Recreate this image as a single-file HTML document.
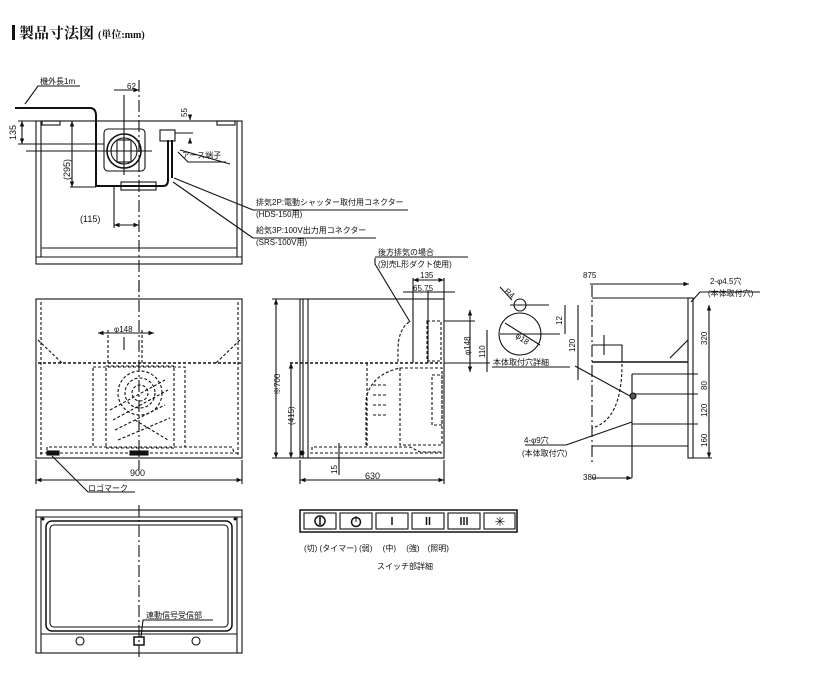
<!DOCTYPE html>
<html><head><meta charset="utf-8"><style>
html,body{margin:0;padding:0;background:#fff;width:815px;height:700px;overflow:hidden}
svg{display:block}
text{font-family:"Liberation Sans","Noto Sans CJK JP",sans-serif;fill:#111}
</style></head><body>
<svg width="815" height="700" viewBox="0 0 815 700" xmlns="http://www.w3.org/2000/svg">
<defs>
<marker id="a" markerWidth="6" markerHeight="6" refX="5" refY="3" orient="auto-start-reverse"><path d="M0,1 L5,3 L0,5" fill="#111"/></marker>
</defs>
<!-- title -->
<rect x="12" y="25" width="3" height="15" fill="#111"/>
<text x="19" y="38" font-size="15" style="font-family:'Liberation Serif','Noto Serif CJK SC',serif" font-weight="bold">製品寸法図</text>
<text x="98" y="38" font-size="10" style="font-family:'Liberation Serif','Noto Serif CJK SC',serif" font-weight="bold">(単位:mm)</text>

<g stroke="#111" stroke-width="1.1" fill="none">
<!-- ===== Top view ===== -->
<rect x="36" y="121" width="206" height="143"/>
<line x1="41" y1="121" x2="41" y2="257"/><line x1="237" y1="121" x2="237" y2="257"/>
<line x1="41" y1="248" x2="237" y2="248"/><line x1="36" y1="257" x2="242" y2="257"/>
<rect x="42" y="121" width="18" height="4"/><rect x="217" y="121" width="18" height="4"/>
<line x1="139" y1="80" x2="139" y2="300" stroke-dasharray="12,3,2,3"/>
<rect x="104" y="129" width="41" height="42" rx="4"/>
<circle cx="124" cy="151" r="17" stroke-width="1.6"/>
<circle cx="124" cy="151" r="13"/>
<rect x="117" y="140" width="14" height="22"/>
<line x1="124" y1="95" x2="124" y2="175"/>
<line x1="26" y1="151" x2="152" y2="151"/>
<rect x="160" y="130" width="15" height="11"/>
<path d="M15,108 L90,108 Q96,108 96,116 L96,186 L163,186 Q168,186 168,180 L168,140" stroke-width="2"/>
<line x1="172" y1="140" x2="172" y2="178" stroke-width="2"/>
<rect x="121" y="182" width="35" height="8"/>
<!-- dims -->
<line x1="22" y1="121" x2="22" y2="144" marker-start="url(#a)" marker-end="url(#a)"/>
<line x1="18" y1="121" x2="36" y2="121"/><line x1="18" y1="144" x2="104" y2="144"/>
<line x1="72" y1="121" x2="72" y2="187" marker-start="url(#a)" marker-end="url(#a)"/>
<line x1="70" y1="187" x2="96" y2="187"/>
<line x1="114" y1="225" x2="139" y2="225" marker-start="url(#a)" marker-end="url(#a)"/>
<line x1="114" y1="186" x2="114" y2="228"/>
<line x1="114" y1="90" x2="139" y2="90" marker-end="url(#a)"/>
<line x1="190" y1="118" x2="190" y2="120" marker-end="url(#a)"/>
<line x1="190" y1="140" x2="190" y2="138" marker-end="url(#a)"/>
<line x1="175" y1="133" x2="193" y2="133"/>
<path d="M25,104 L38,86 L80,86"/>
<path d="M230,164 L180,150 M178,152 L188,162 L226,162"/>
<path d="M253,210 L174,178 M173,182 L253,238"/>
<line x1="253" y1="210" x2="408" y2="210"/><line x1="253" y1="238" x2="376" y2="238"/>

<!-- ===== Front view ===== -->
<rect x="36" y="299" width="206" height="159"/>
<g stroke-dasharray="3,2">
<line x1="41" y1="302" x2="41" y2="455"/><line x1="238" y1="302" x2="238" y2="455"/>
<line x1="38" y1="363" x2="241" y2="363" stroke-width="1.5"/>
<path d="M38,340 L62,363 M240,340 L216,363"/>
<rect x="93" y="367" width="92" height="80"/>
<rect x="106" y="366" width="68" height="82"/>
<circle cx="140" cy="393" r="22"/><circle cx="140" cy="393" r="15"/><circle cx="140" cy="393" r="8"/>
<path d="M110,410 L165,380 M113,420 L168,390 M115,430 L165,405 M118,440 L170,418 M135,420 L168,440"/>
<path d="M47,450 L47,447 L232,447 L234,452"/>
<line x1="40" y1="453" x2="238" y2="453"/>
<line x1="108" y1="330" x2="108" y2="363"/><line x1="142" y1="330" x2="142" y2="363"/>
</g>
<line x1="139" y1="280" x2="139" y2="470" stroke-dasharray="12,3,2,3"/>
<line x1="98" y1="333" x2="154" y2="333" marker-start="url(#a)" marker-end="url(#a)"/>
<line x1="124" y1="337" x2="124" y2="350"/>
<rect x="47" y="451" width="12" height="4" fill="#111"/><rect x="130" y="451" width="18" height="4" fill="#111"/>
<line x1="36" y1="480" x2="242" y2="480" marker-start="url(#a)" marker-end="url(#a)"/>
<line x1="36" y1="460" x2="36" y2="484"/><line x1="242" y1="460" x2="242" y2="484"/>
<path d="M52,456 L88,492 L135,492"/>

<!-- ===== Side view ===== -->
<rect x="300" y="299" width="144" height="159"/>
<line x1="303" y1="299" x2="303" y2="458"/><line x1="308" y1="299" x2="308" y2="458"/>
<g stroke-dasharray="3,2">
<line x1="290" y1="363" x2="442" y2="363" stroke-width="1.5"/>
<path d="M409,322 Q398,330 398,350 L398,363"/>
<rect x="427" y="321" width="14" height="40"/>
<path d="M366,445 L366,400 Q370,375 400,368"/>
<rect x="400" y="368" width="42" height="77"/>
<rect x="432" y="375" width="10" height="50"/>
<path d="M373,385 h14 M373,395 h14 M373,405 h14 M373,415 h14"/>
<path d="M312,450 L312,447 L410,447 L420,452 L442,452"/>
<line x1="310" y1="453" x2="442" y2="453"/>
<line x1="367" y1="363" x2="367" y2="448"/>
</g>
<line x1="413" y1="278" x2="413" y2="363"/><line x1="428" y1="290" x2="428" y2="363"/><line x1="444" y1="278" x2="444" y2="299"/>
<line x1="413" y1="280" x2="444" y2="280" marker-start="url(#a)" marker-end="url(#a)"/>
<line x1="403" y1="292" x2="455" y2="292"/>
<line x1="444" y1="321" x2="475" y2="321"/><line x1="444" y1="363" x2="490" y2="363"/>
<line x1="470" y1="310" x2="470" y2="372" marker-start="url(#a)" marker-end="url(#a)"/>
<line x1="487" y1="330" x2="487" y2="372"/>
<line x1="276" y1="299" x2="276" y2="458" marker-start="url(#a)" marker-end="url(#a)"/>
<line x1="272" y1="299" x2="300" y2="299"/><line x1="272" y1="458" x2="300" y2="458"/>
<line x1="291" y1="363" x2="291" y2="458" marker-start="url(#a)" marker-end="url(#a)"/>
<line x1="300" y1="480" x2="444" y2="480" marker-start="url(#a)" marker-end="url(#a)"/>
<line x1="300" y1="460" x2="300" y2="484"/><line x1="444" y1="460" x2="444" y2="484"/>
<line x1="339" y1="443" x2="339" y2="475"/>
<circle cx="302" cy="453" r="2" fill="#111"/>
<path d="M375,258 L375,264 L410,322"/>
<line x1="375" y1="257" x2="468" y2="257"/>

<!-- ===== Hole detail ===== -->
<circle cx="520" cy="334" r="21"/>
<circle cx="520" cy="305" r="6"/>
<line x1="510" y1="305" x2="549" y2="305"/><line x1="500" y1="334" x2="560" y2="334"/>
<line x1="565" y1="305" x2="565" y2="334"/><line x1="578" y1="305" x2="578" y2="380"/>
<line x1="505" y1="323" x2="540" y2="345"/>
<path d="M500,287 L512,300"/>
<line x1="492" y1="367" x2="570" y2="367"/>

<!-- ===== Right side view ===== -->
<line x1="592" y1="285" x2="592" y2="465" stroke-dasharray="12,3,2,3"/>
<line x1="592" y1="298" x2="690" y2="298"/>
<rect x="688" y="298" width="5" height="160"/>
<line x1="592" y1="362" x2="688" y2="362" stroke-width="1.5"/>
<line x1="592" y1="446" x2="688" y2="446"/>
<path d="M592,345 L622,345 L622,362 M604,335 L604,355"/>
<path d="M670,358 L688,340 L688,358"/>
<path d="M622,364 Q622,420 592,428" stroke-dasharray="3,2"/>
<line x1="632" y1="374" x2="698" y2="374"/><line x1="632" y1="394" x2="698" y2="394"/><line x1="632" y1="424" x2="698" y2="424"/>
<line x1="632" y1="374" x2="632" y2="478"/>
<circle cx="633" cy="396" r="3" fill="#555"/>
<line x1="709" y1="305" x2="709" y2="458" marker-start="url(#a)" marker-end="url(#a)"/>
<line x1="693" y1="458" x2="712" y2="458"/>
<line x1="590" y1="284" x2="689" y2="284" marker-end="url(#a)"/>
<line x1="592" y1="478" x2="632" y2="478" marker-end="url(#a)"/>
<path d="M575,366 L630,396 M566,445 L632,422"/>
<line x1="525" y1="445" x2="566" y2="445"/>
<path d="M691,302 L700,292 L760,292"/>

<!-- ===== Bottom view ===== -->
<rect x="36" y="510" width="206" height="143"/>
<line x1="36" y1="517" x2="242" y2="517"/>
<line x1="41" y1="517" x2="41" y2="653"/><line x1="237" y1="517" x2="237" y2="653"/>
<rect x="46" y="521" width="186" height="110" rx="6" stroke-width="1.5"/>
<rect x="50" y="525" width="178" height="102" rx="4"/>
<line x1="41" y1="634" x2="237" y2="634"/>
<circle cx="80" cy="641" r="4"/><circle cx="196" cy="641" r="4"/>
<rect x="134" y="637" width="10" height="8" stroke-width="1.5"/>
<line x1="139" y1="505" x2="139" y2="660" stroke-dasharray="12,3,2,3"/>
<path d="M141,637 L143,620 L213,620"/>

<!-- ===== Switch panel ===== -->
<rect x="300" y="510" width="217" height="22" stroke-width="1.5"/>
<rect x="304" y="513" width="32" height="16"/><rect x="340" y="513" width="32" height="16"/>
<rect x="376" y="513" width="32" height="16"/><rect x="412" y="513" width="32" height="16"/>
<rect x="448" y="513" width="32" height="16"/><rect x="484" y="513" width="31" height="16"/>
</g>
<circle cx="43" cy="519" r="1.5" fill="#111"/><circle cx="235" cy="519" r="1.5" fill="#111"/>
<circle cx="320" cy="521" r="5" fill="none" stroke="#111" stroke-width="1.5"/><line x1="320" y1="517" x2="320" y2="525" stroke="#111" stroke-width="1.5"/>
<circle cx="356" cy="522" r="4.5" fill="none" stroke="#111" stroke-width="1.5"/><line x1="356" y1="522" x2="356" y2="516" stroke="#111"/>
<line x1="392" y1="517" x2="392" y2="525" stroke="#111" stroke-width="1.5"/>
<path d="M426.5,517v8M429.5,517v8" stroke="#111" stroke-width="1.5"/>
<path d="M461,517v8M464,517v8M467,517v8" stroke="#111" stroke-width="1.5"/>
<text x="500" y="526" font-size="13" text-anchor="middle">✳</text>

<!-- text labels -->
<g font-size="8">
<text x="40" y="84">機外長1m</text>
<text x="127" y="89">62</text>
<text x="16" y="140" transform="rotate(-90 16 140)" font-size="9">135</text>
<text x="70" y="180" transform="rotate(-90 70 180)" font-size="9">(295)</text>
<text x="80" y="222" font-size="9">(115)</text>
<text x="187" y="117" transform="rotate(-90 187 117)">55</text>
<text x="182" y="158">アース端子</text>
<text x="256" y="205">排気2P:電動シャッター取付用コネクター</text>
<text x="256" y="217">(HDS-150用)</text>
<text x="256" y="233">給気3P:100V出力用コネクター</text>
<text x="256" y="245">(SRS-100V用)</text>
<text x="378" y="255">後方排気の場合</text>
<text x="378" y="267">(別売L形ダクト使用)</text>
<text x="420" y="278">135</text>
<text x="413" y="291">65.75</text>
<text x="470" y="355" transform="rotate(-90 470 355)">φ148</text>
<text x="485" y="358" transform="rotate(-90 485 358)">110</text>
<text x="493" y="365">本体取付穴詳細</text>
<text x="504" y="292" transform="rotate(40 504 292)">R4</text>
<text x="515" y="337" transform="rotate(35 515 337)">φ18</text>
<text x="562" y="325" transform="rotate(-90 562 325)">12</text>
<text x="575" y="352" transform="rotate(-90 575 352)">120</text>
<text x="583" y="278">875</text>
<text x="710" y="284">2-φ4.5穴</text>
<text x="708" y="296">(本体取付穴)</text>
<text x="707" y="345" transform="rotate(-90 707 345)">320</text>
<text x="707" y="390" transform="rotate(-90 707 390)">80</text>
<text x="707" y="417" transform="rotate(-90 707 417)">120</text>
<text x="707" y="447" transform="rotate(-90 707 447)">160</text>
<text x="524" y="443">4-φ9穴</text>
<text x="522" y="456">(本体取付穴)</text>
<text x="583" y="480">380</text>
<text x="114" y="332">φ148</text>
<text x="130" y="476" font-size="9">900</text>
<text x="88" y="491">ロゴマーク</text>
<text x="280" y="395" transform="rotate(-90 280 395)">※700</text>
<text x="294" y="425" transform="rotate(-90 294 425)">(415)</text>
<text x="337" y="474" transform="rotate(-90 337 474)">15</text>
<text x="365" y="479" font-size="9">630</text>
<text x="146" y="618">連動信号受信部</text>
<text x="304" y="551">(切) (タイマー) (弱)　 (中)　 (強)　(照明)</text>
<text x="377" y="569">スイッチ部詳細</text>
</g>
</svg>
</body></html>
